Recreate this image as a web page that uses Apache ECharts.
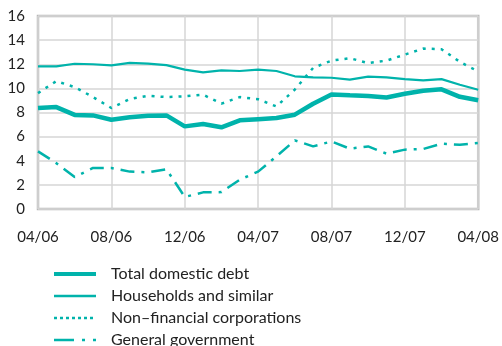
<!DOCTYPE html>
<html><head><meta charset="utf-8">
<script src="https://cdn.jsdelivr.net/npm/echarts@6/dist/echarts.min.js"></script>
<style>html,body{margin:0;padding:0;background:#fff}#c{width:502px;height:346px}</style>
</head><body><div id="c"></div>
<script>
var months = ['04/06','05/06','06/06','07/06','08/06','09/06','10/06','11/06','12/06','01/07','02/07','03/07','04/07','05/07','06/07','07/07','08/07','09/07','10/07','11/07','12/07','01/08','02/08','03/08','04/08'];
var totalDebt = [8.37,8.45,7.8,7.76,7.4,7.6,7.73,7.76,6.85,7.04,6.77,7.35,7.45,7.54,7.82,8.73,9.5,9.42,9.36,9.25,9.55,9.8,9.92,9.3,9.02];
var households = [11.82,11.82,12.04,12.0,11.9,12.12,12.05,11.93,11.55,11.33,11.49,11.44,11.55,11.44,11.0,10.91,10.88,10.72,10.97,10.91,10.77,10.66,10.77,10.3,9.89];
var nonFinancial = [9.61,10.6,10.1,9.28,8.37,9.12,9.39,9.28,9.34,9.48,8.73,9.28,9.1,8.5,9.9,11.7,12.3,12.5,12.1,12.3,12.8,13.3,13.25,12.2,11.4];
var government = [4.78,3.8,2.65,3.4,3.4,3.1,3.04,3.3,1.0,1.38,1.4,2.43,3.1,4.36,5.69,5.19,5.6,5.0,5.19,4.59,4.92,4.97,5.41,5.33,5.47];
var names = ['Total domestic debt','Households and similar','Non\u2013financial corporations','General government'];

var teal = '#00b3ab';
var widths = [4.5, 2.2, 2.5, 2.5];
var types = ['solid', 'solid', [3,6], [14,7,3,7]];
var legendTypes = ['solid', 'solid', [3,3], [20,8,3,8]];
var chart = echarts.init(document.getElementById('c'), null, {renderer:'canvas'});
function s(i, data){
  return {name:names[i], type:'line', data:data, symbol:'none', smooth:false,
    lineStyle:{color:teal, width:widths[i], type:types[i], cap:'butt'}, itemStyle:{color:teal}};
}
chart.setOption({
  animation:false,
  textStyle:{fontFamily:'Lato'},
  grid:{left:38, right:20, top:16, bottom:137, show:true, borderColor:'#b8b8b8', borderWidth:2.5, backgroundColor:'transparent'},
  legend:{orient:'vertical', left:47, top:261, height:120, itemWidth:42, itemHeight:12, itemGap:6,
    itemStyle:{opacity:0},
    textStyle:{fontSize:16, color:'#222', fontFamily:'Lato', padding:[0,0,0,10]},
    data:names.map(function(n, i){
      return {name:n, lineStyle:{width:widths[i] === 4.5 ? 4 : 2.5, type:legendTypes[i], color:teal}};
    })},
  xAxis:{type:'category', data:months, boundaryGap:false,
    axisLine:{show:false}, axisTick:{show:false},
    axisLabel:{interval:3, color:'#222', fontSize:15, margin:21},
    splitLine:{show:true, interval:3, lineStyle:{color:'#d6d6d6', width:1.5}}},
  yAxis:{type:'value', min:0, max:16, interval:2,
    axisLine:{show:false}, axisTick:{show:false},
    axisLabel:{color:'#222', fontSize:15, margin:13},
    splitLine:{show:true, lineStyle:{color:'#d6d6d6', width:1.5}}},
  series:[
    s(0, totalDebt),
    s(1, households),
    s(2, nonFinancial),
    s(3, government)
  ]
});
</script></body></html>
